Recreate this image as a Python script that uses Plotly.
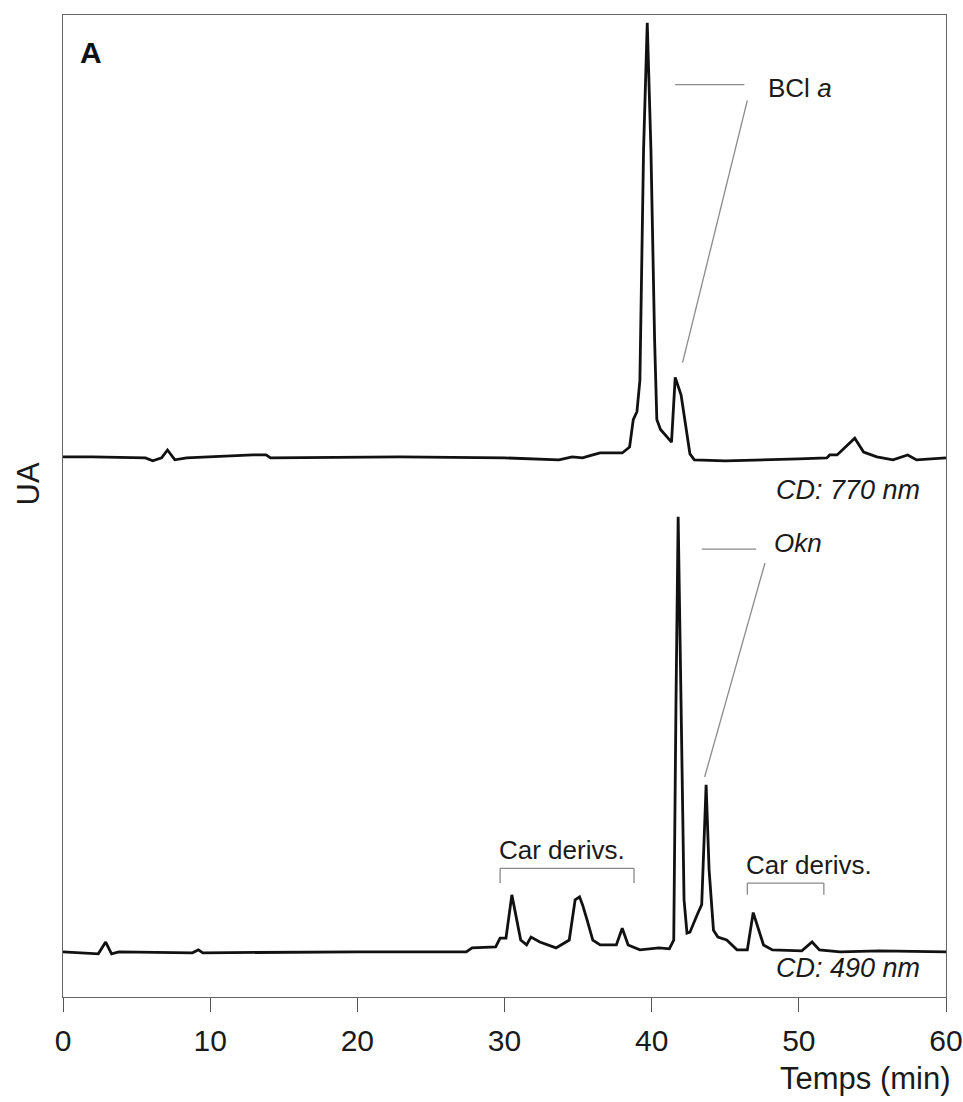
import plotly.graph_objects as go

# ---------------- data ----------------
# Upper chromatogram, detection at 770 nm (signal above its own baseline)
t_770 = [0.0, 2.0, 5.6, 6.1, 6.7, 7.1, 7.6, 8.4, 12.9, 13.8, 14.1, 22.9, 30.0,
         33.7, 34.6, 35.3, 36.0, 36.5, 38.0, 38.5, 38.75, 39.0, 39.2, 39.45, 39.7,
         39.95, 40.2, 40.35, 40.6, 41.1, 41.35, 41.6, 42.0, 42.3, 42.6, 42.9, 45.0,
         50.0, 51.9, 52.1, 52.6, 53.8, 54.4, 55.3, 56.4, 57.4, 58.0, 60.0]
s_770 = [0.1, 0.1, 0.0, -0.3, 0.0, 0.8, -0.2, 0.0, 0.3, 0.3, 0.0, 0.1, 0.0,
         -0.2, 0.1, 0.0, 0.3, 0.5, 0.5, 1.1, 3.9, 4.7, 7.9, 31.4, 44.3,
         31.4, 12.0, 3.9, 2.9, 2.1, 1.6, 8.2, 6.4, 3.4, 0.4, -0.2, -0.3,
         -0.1, 0.0, 0.3, 0.3, 2.0, 0.6, 0.1, -0.2, 0.3, -0.2, 0.0]

# Lower chromatogram, detection at 490 nm
t_490 = [0.0, 2.4, 2.9, 3.3, 3.8, 8.8, 9.2, 9.5, 20.0, 27.4, 27.8, 29.4, 29.7,
         30.1, 30.5, 31.1, 31.5, 31.8, 32.4, 33.5, 34.4, 34.8, 35.1, 35.3, 35.6,
         36.0, 36.5, 37.6, 38.0, 38.4, 39.2, 40.5, 41.2, 41.5, 41.65, 41.8,
         42.0, 42.2, 42.4, 42.6, 43.1, 43.4, 43.7, 43.9, 44.2, 44.5, 45.1,
         45.8, 46.5, 46.9, 47.6, 48.2, 50.2, 50.9, 51.4, 52.8, 55.5, 60.0]
s_490 = [0.0, -0.2, 1.0, -0.2, 0.0, -0.1, 0.2, -0.1, 0.0, 0.0, 0.4, 0.5, 1.4,
         1.4, 5.8, 1.2, 0.7, 1.5, 1.0, 0.4, 1.2, 5.3, 5.6, 4.8, 3.3,
         1.2, 0.7, 0.7, 2.4, 0.7, 0.2, 0.4, 0.3, 1.2, 25.0, 44.3,
         25.0, 5.3, 1.9, 2.0, 3.8, 4.8, 17.0, 8.4, 2.2, 1.5, 1.2,
         0.2, 0.2, 4.0, 0.7, 0.2, 0.1, 1.0, 0.2, 0.0, 0.1, 0.0]

x_ticks = [0, 10, 20, 30, 40, 50, 60]

# vertical offsets used to stack the two traces
offset_770 = 54.9
offset_490 = 4.6

FONT = "Liberation Sans, Arial, Helvetica, sans-serif"
LINE_GREY = "#8a8a8a"

fig = go.Figure()
fig.add_trace(go.Scatter(x=t_770, y=[v + offset_770 for v in s_770], mode="lines",
                         line=dict(color="#111111", width=2.8), showlegend=False))
fig.add_trace(go.Scatter(x=t_490, y=[v + offset_490 for v in s_490], mode="lines",
                         line=dict(color="#111111", width=2.8), showlegend=False))

# leader lines and brackets
def seg(x0, y0, x1, y1):
    fig.add_shape(type="line", x0=x0, y0=y0, x1=x1, y1=y1, xref="x", yref="y",
                  line=dict(color=LINE_GREY, width=1.3))

# BCl a leader
seg(41.6, 92.9, 46.3, 92.9)
seg(46.5, 91.3, 42.1, 64.6)
# Okn leader
seg(43.4, 45.6, 47.1, 45.6)
seg(47.7, 44.2, 43.6, 22.4)
# Car derivs. bracket 1
seg(29.7, 13.1, 38.8, 13.1)
seg(29.7, 13.1, 29.7, 11.6)
seg(38.8, 13.1, 38.8, 11.6)
# Car derivs. bracket 2
seg(46.5, 11.6, 51.7, 11.6)
seg(46.5, 11.6, 46.5, 10.4)
seg(51.7, 11.6, 51.7, 10.4)

ann_font = dict(family=FONT, size=26, color="#1a1a1a")
anns = [
    dict(x=1.0, y=96.2, text="<b>A</b>", xanchor="left", yanchor="middle",
         font=dict(family=FONT, size=30, color="#111111")),
    dict(x=47.8, y=92.6, text="BCl <i>a</i>", xanchor="left", yanchor="middle", font=ann_font),
    dict(x=58.4, y=51.6, text="<i>CD: 770 nm</i>", xanchor="right", yanchor="middle",
         font=dict(family=FONT, size=27, color="#1a1a1a")),
    dict(x=48.2, y=46.2, text="<i>Okn</i>", xanchor="left", yanchor="middle", font=ann_font),
    dict(x=33.9, y=15.0, text="Car derivs.", xanchor="center", yanchor="middle", font=ann_font),
    dict(x=50.7, y=13.4, text="Car derivs.", xanchor="center", yanchor="middle", font=ann_font),
    dict(x=58.4, y=2.95, text="<i>CD: 490 nm</i>", xanchor="right", yanchor="middle",
         font=dict(family=FONT, size=27, color="#1a1a1a")),
]
for a in anns:
    fig.add_annotation(xref="x", yref="y", showarrow=False, **a)

fig.add_annotation(xref="paper", yref="paper", x=1.008, y=-0.0835, text="Temps (min)",
                   showarrow=False, xanchor="right", yanchor="middle",
                   font=dict(family=FONT, size=31, color="#1a1a1a"))
fig.add_annotation(xref="paper", yref="paper", x=-0.0396, y=0.522, text="UA",
                   showarrow=False, textangle=-90, xanchor="center", yanchor="middle",
                   font=dict(family=FONT, size=31, color="#1a1a1a"))

fig.update_layout(
    width=963, height=1102,
    margin=dict(l=63, r=17, t=15, b=105, autoexpand=False),
    paper_bgcolor="white", plot_bgcolor="white",
    showlegend=False,
    xaxis=dict(range=[0, 60], tickvals=x_ticks, ticktext=[str(v) for v in x_ticks],
               ticks="outside", ticklen=14, tickcolor="#555555", tickwidth=1.3,
               ticklabelstandoff=3, automargin=False,
               showline=True, linecolor="#666666", linewidth=1.3, mirror=True,
               showgrid=False, zeroline=False,
               tickfont=dict(family=FONT, size=30, color="#1a1a1a")),
    yaxis=dict(range=[0, 100], showticklabels=False, ticks="", automargin=False,
               showline=True, linecolor="#666666", linewidth=1.3, mirror=True,
               showgrid=False, zeroline=False),
)

fig.write_html("out.html")
